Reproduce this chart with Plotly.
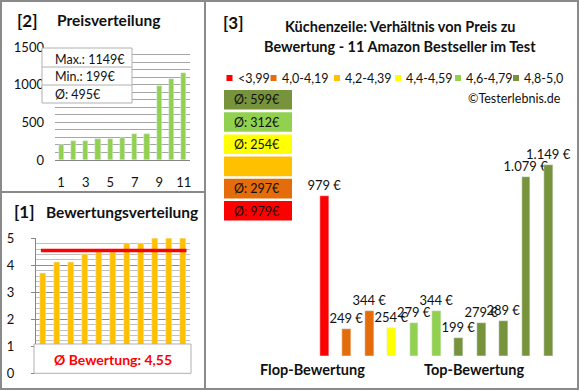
import plotly.graph_objects as go

W, H = 580, 390


def px(x):
    return x / W


def py(y):
    return 1 - y / H


FONT = "Lato"
TXT = "#111111"
GRID = "#a6a6a6"
BORDER = "#8a8a8a"

# ---------------- data ----------------
categories = list(range(1, 12))
xtick_vals = [1, 3, 5, 7, 9, 11]
xtick_labels = ["1", "3", "5", "7", "9", "11"]

price_values = [199, 249, 254, 279, 279, 289, 344, 344, 979, 1079, 1149]
rating_values = [3.7, 4.1, 4.1, 4.4, 4.5, 4.5, 4.8, 4.8, 5.0, 5.0, 5.0]
avg_rating = 4.55

product_prices = [979, 249, 344, 254, 279, 344, 199, 279, 289, 1079, 1149]
product_groups = [0, 1, 1, 3, 4, 4, 5, 5, 5, 5, 5]
group_labels = ["<3,99", "4,0-4,19", "4,2-4,39", "4,4-4,59", "4,6-4,79", "4,8-5,0"]
group_colors = ["#FF0000", "#E46C0A", "#FFC000", "#FFFF00", "#92D050", "#77933C"]

# derived stats
p_max = max(price_values)
p_min = min(price_values)
p_avg = int(sum(price_values) / len(price_values) + 0.5)
group_avgs = []
for g in range(len(group_labels)):
    vals = [p for p, gg in zip(product_prices, product_groups) if gg == g]
    group_avgs.append(int(sum(vals) / len(vals) + 0.5) if vals else None)

fig = go.Figure()

# Panel [2] Preisverteilung
fig.add_trace(go.Bar(x=categories, y=price_values, marker_color="#92D050",
                     width=0.42, xaxis="x", yaxis="y", showlegend=False,
                     hoverinfo="skip"))

# Panel [1] Bewertungsverteilung
fig.add_trace(go.Bar(x=categories, y=rating_values, marker_color="#FFC000",
                     width=0.43, xaxis="x2", yaxis="y2", showlegend=False,
                     hoverinfo="skip"))
fig.add_trace(go.Scatter(x=[categories[0] - 0.15, categories[-1] + 0.25],
                         y=[avg_rating, avg_rating], mode="lines",
                         line=dict(color="#FF0000", width=3.5),
                         xaxis="x2", yaxis="y2", showlegend=False,
                         hoverinfo="skip"))

# Panel [3] price vs rating
fig.add_trace(go.Bar(x=categories, y=product_prices,
                     marker_color=[group_colors[g] for g in product_groups],
                     width=0.4, xaxis="x3", yaxis="y3", showlegend=False,
                     texttemplate="%{y:,.0f} €", textposition="outside",
                     constraintext="none",
                     textfont=dict(family=FONT, size=13, color=TXT),
                     hoverinfo="skip"))

shapes = []
annotations = []


def rect(x0, y0, x1, y1, fill, line=None, lw=1, layer="above"):
    shapes.append(dict(type="rect", xref="paper", yref="paper",
                       x0=px(x0), x1=px(x1), y0=py(y1), y1=py(y0),
                       fillcolor=fill,
                       line=dict(color=line or fill, width=lw if line else 0),
                       layer=layer))


def hline(x0, x1, y, color, lw=1):
    shapes.append(dict(type="line", xref="paper", yref="paper",
                       x0=px(x0), x1=px(x1), y0=py(y), y1=py(y),
                       line=dict(color=color, width=lw), layer="above"))


def vline(x, y0, y1, color, lw=1):
    shapes.append(dict(type="line", xref="paper", yref="paper",
                       x0=px(x), x1=px(x), y0=py(y0), y1=py(y1),
                       line=dict(color=color, width=lw), layer="above"))


def text(x, y, s, size=12, bold=False, color=TXT, xanchor="center"):
    annotations.append(dict(xref="paper", yref="paper", x=px(x), y=py(y),
                            text=f"<b>{s}</b>" if bold else s,
                            showarrow=False, xanchor=xanchor, yanchor="middle",
                            font=dict(family=FONT, size=size, color=color)))


# outer frames
rect(1, 1, 578, 389, "rgba(0,0,0,0)", BORDER, 2)
vline(205, 0, 390, BORDER, 2)
hline(0, 205, 192, BORDER, 2)

# panel [2] titles + info box
text(27.5, 20, "[2]", 17, True)
text(109, 20, "Preisverteilung", 15.5, True)
rect(42, 48, 132, 103, "white", "#b0b0b0", 1)
hline(42, 132, 67, "#b0b0b0")
hline(42, 132, 85, "#b0b0b0")
text(53, 59, f"Max.: {p_max}€", 12.5, xanchor="left")
text(53, 77, f"Min.: {p_min}€", 12.5, xanchor="left")
text(53, 94.5, f"Ø: {p_avg}€", 12.5, xanchor="left")

# panel [1] titles + avg box
text(24.5, 212, "[1]", 17, True)
text(122, 212, "Bewertungsverteilung", 15.5, True)
rect(34, 344, 191, 373.3, "white", "#b0b0b0", 1)
text(112.5, 359, "Ø Bewertung: " + f"{avg_rating:.2f}".replace(".", ","), 14,
     True, color="#FF0000")

# panel [3] title
text(233, 22, "[3]", 17, True)
text(400, 27, "Küchenzeile: Verhältnis von Preis zu", 14.5, True)
text(400, 46, "Bewertung - 11 Amazon Bestseller im Test", 14.5, True)
text(563, 98, "©Testerlebnis.de", 12.5, xanchor="right")

# legend row
legend_x = [226.5, 270.5, 334, 395, 455, 513]
for lx, lab, col in zip(legend_x, group_labels, group_colors):
    rect(lx, 75, lx + 6, 81, col)
    text(lx + 9, 78.5, lab, 12.5, xanchor="left")

# group average boxes (top: best group)
for i, g in enumerate(reversed(range(len(group_labels)))):
    top = 90 + i * 22.2
    rect(224, top, 292, top + 19.6, group_colors[g])
    if group_avgs[g] is not None:
        text(257, top + 10, f"Ø: {group_avgs[g]}€", 12.5)

text(312, 369, "Flop-Bewertung", 14.5, True)
text(474, 369, "Top-Bewertung", 14.5, True)

# panel 3 x scale: 22.4 px per category, category 1 centred at x=324.5
X3_L = 324.5 - 1.0 * 22.4   # category 0
X3_R = 324.5 + 11.0 * 22.4  # category 12

fig.update_layout(
    width=W, height=H, margin=dict(l=0, r=0, t=0, b=0, pad=0, autoexpand=False),
    paper_bgcolor="white", plot_bgcolor="white", autosize=False,
    separators=",.", bargap=0, showlegend=False,
    font=dict(family=FONT, size=12, color=TXT),
    shapes=shapes, annotations=annotations,
    xaxis=dict(domain=[px(55), px(190)], anchor="y", range=[0.5, 11.5],
               tickvals=xtick_vals, ticktext=xtick_labels, showgrid=False,
               showline=True, linecolor="#868686", linewidth=1, ticks="",
               ticklabelstandoff=10, tickfont=dict(size=13, color=TXT),
               zeroline=False, fixedrange=True, automargin=False),
    yaxis=dict(domain=[py(160), py(47)], anchor="x", range=[0, 1500],
               dtick=500, tickformat="d", showgrid=True, gridcolor=GRID,
               minor=dict(dtick=100, showgrid=True, gridcolor=GRID),
               zeroline=False, showline=False, ticks="",
               ticklabelstandoff=10, tickfont=dict(size=13, color=TXT),
               fixedrange=True, automargin=False),
    xaxis2=dict(domain=[px(36), px(190)], anchor="y2", range=[0.5, 11.5],
                showticklabels=False, showgrid=False, zeroline=False,
                showline=False, ticks="", fixedrange=True, automargin=False),
    yaxis2=dict(domain=[py(373.3), py(238.3)], anchor="x2", range=[0, 5],
                dtick=1, showgrid=True, gridcolor="#8c8c8c",
                minor=dict(dtick=0.2, showgrid=True, gridcolor="#c0c0c0"),
                zeroline=False, showline=True, linecolor="#868686",
                ticks="outside", ticklen=4, tickcolor="#868686",
                ticklabelstandoff=14, tickfont=dict(size=13, color=TXT),
                fixedrange=True, automargin=False),
    xaxis3=dict(domain=[px(X3_L), px(X3_R)], anchor="y3", range=[0, 12],
                visible=False, fixedrange=True, automargin=False),
    yaxis3=dict(domain=[py(355.7), py(119)], anchor="x3", range=[100, 1400],
                visible=False, fixedrange=True, automargin=False),
)

fig.write_html(
    "out.html",
    config={"displayModeBar": False, "responsive": False},
    post_script=(
        "document.documentElement.style.margin='0';"
        "document.documentElement.style.overflow='hidden';"
        "document.body.style.margin='0';"
        "document.body.style.padding='0';"
        "document.body.style.overflow='hidden';"
        "var d=document.getElementById('{plot_id}');"
        "d.style.position='fixed';d.style.left='0px';d.style.top='0px';"
    ),
)
